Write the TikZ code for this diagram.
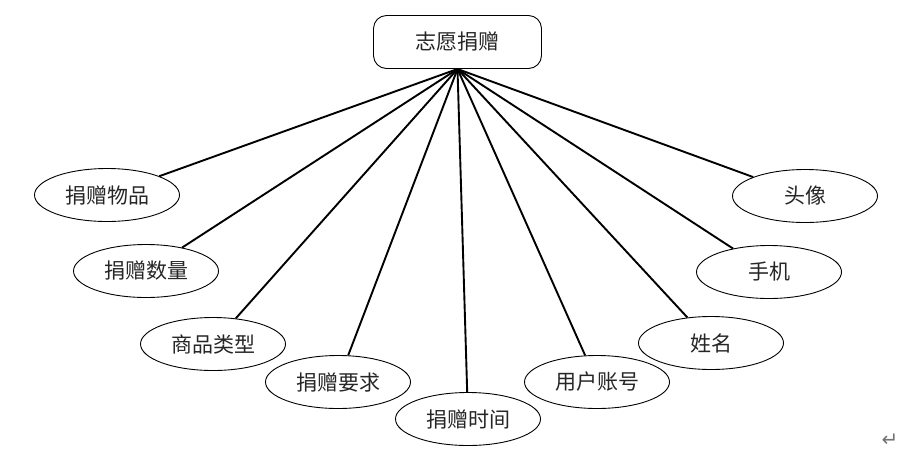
\documentclass[tikz,border=0pt]{standalone}
\usepackage{fontspec}
\newfontfamily\cjk{Noto Sans CJK SC}
\newfontfamily\dejavu{DejaVu Sans}
\usetikzlibrary{shapes.geometric}
\tikzset{
  attr/.style={ellipse, draw=black, line width=0.9pt, fill=white, minimum width=145pt, minimum height=53pt, inner sep=0pt, text=black!85, font=\cjk\fontsize{21pt}{21pt}\selectfont},
  ent/.style={rectangle, rounded corners=13pt, draw=black, line width=0.9pt, fill=white, minimum width=168pt, minimum height=53pt, inner sep=0pt, text=black!85, font=\cjk\fontsize{21pt}{21pt}\selectfont},
  link/.style={line width=1.9pt, black},
}
\begin{document}
\begin{tikzpicture}[x=1pt,y=-1pt]
\useasboundingbox (0,0) rectangle (915,459);
\node[ent] (top) at (457.5,42) {志愿捐赠};
\coordinate (hub) at (457.5,69);
\node[attr] (a1) at (107,195) {捐赠物品};
\node[attr] (a2) at (146,271) {捐赠数量};
\node[attr] (a3) at (213,344) {商品类型};
\node[attr] (a4) at (338,382) {捐赠要求};
\node[attr] (a5) at (468,419) {捐赠时间};
\node[attr] (a6) at (597,382) {用户账号};
\node[attr] (a7) at (711,343) {姓名};
\node[attr] (a8) at (769,272) {手机};
\node[attr] (a9) at (805,196) {头像};
\foreach \n in {a1,a2,a3,a4,a5,a6,a7,a8,a9}
  \draw[link] (hub) -- (\n);
\node[text=black!55, font=\dejavu\fontsize{20pt}{20pt}\selectfont, inner sep=0pt] (ret) at (890,440) {↵};
\end{tikzpicture}
\end{document}
